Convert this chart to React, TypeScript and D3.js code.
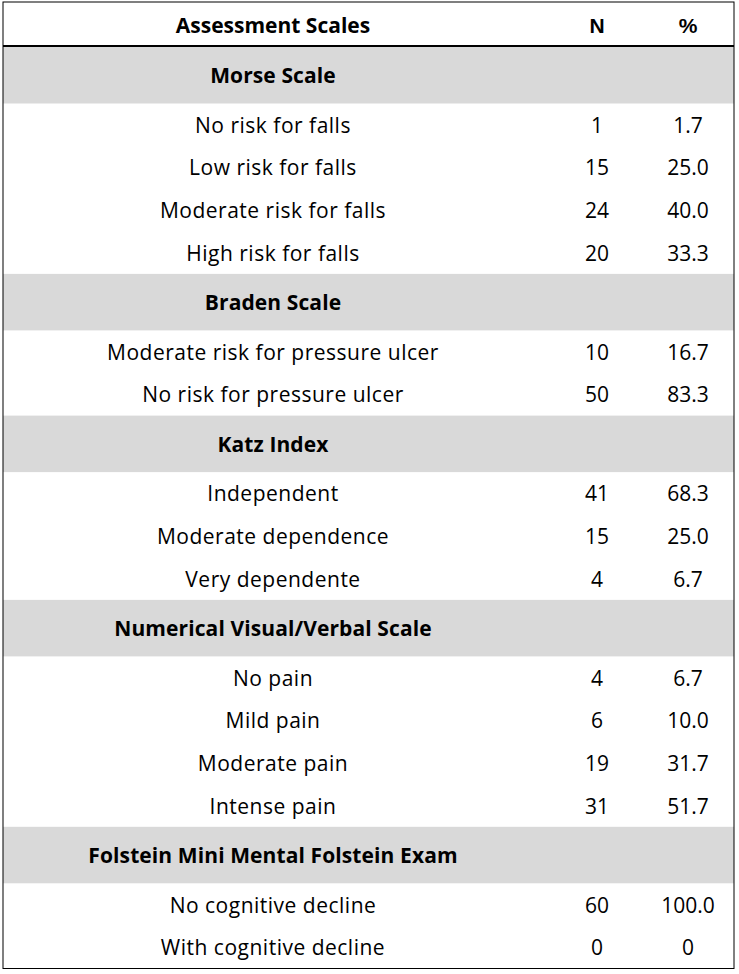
import React from "react";
import * as d3 from "d3";

const sections = [
  "Morse Scale",
  "Braden Scale",
  "Katz Index",
  "Numerical Visual/Verbal Scale",
  "Folstein Mini Mental Folstein Exam",
];
const rowSection = [0, 0, 0, 0, 1, 1, 2, 2, 2, 3, 3, 3, 3, 4, 4];
const rowLabels = [
  "No risk for falls",
  "Low risk for falls",
  "Moderate risk for falls",
  "High risk for falls",
  "Moderate risk for pressure ulcer",
  "No risk for pressure ulcer",
  "Independent",
  "Moderate dependence",
  "Very dependente",
  "No pain",
  "Mild pain",
  "Moderate pain",
  "Intense pain",
  "No cognitive decline",
  "With cognitive decline",
];
const nValues = ["1", "15", "24", "20", "10", "50", "41", "15", "4", "4", "6", "19", "31", "60", "0"];
const pctValues = ["1.7", "25.0", "40.0", "33.3", "16.7", "83.3", "68.3", "25.0", "6.7", "6.7", "10.0", "31.7", "51.7", "100.0", "0"];
const headers = ["Assessment Scales", "N", "%"];

const W = 739;
const H = 974;
const left = 3;
const right = 734;
const top = 2;
const headerH = 44;
const sectionH = 56.5;
const rowH = 42.6;
const font = "'Open Sans', Lato, sans-serif";
const fs = 21;

export default function App() {
  const colX = d3.scaleOrdinal<string, number>().domain(headers).range([273, 597, 688]);

  type Item = { kind: "section" | "row"; y: number; h: number; idx: number };
  const items: Item[] = [];
  let y = top + headerH + 1;
  let prev = -1;
  rowLabels.forEach((_, i) => {
    const s = rowSection[i];
    if (s !== prev) {
      items.push({ kind: "section", y, h: sectionH, idx: s });
      y += sectionH;
      prev = s;
    }
    items.push({ kind: "row", y, h: rowH, idx: i });
    y += rowH;
  });
  const bottom = y;

  return (
    <svg width={W} height={H} style={{ position: "absolute", left: 0, top: 0, background: "#fff" }}>
      <rect x={0} y={0} width={W} height={H} fill="#fff" />
      {items.map((it, k) =>
        it.kind === "section" ? (
          <g key={k}>
            <rect x={left} y={it.y} width={right - left} height={it.h} fill="#d9d9d9" />
            <text
              x={colX("Assessment Scales")}
              y={it.y + it.h / 2}
              textAnchor="middle"
              dominantBaseline="central"
              fontFamily={font}
              fontWeight="bold"
              fontSize={fs}
              letterSpacing={0.1}
              fill="#000"
            >
              {sections[it.idx]}
            </text>
          </g>
        ) : (
          <g key={k} fontFamily={font} fontSize={fs} fill="#000">
            <text
              x={colX("Assessment Scales")}
              y={it.y + it.h / 2}
              textAnchor="middle"
              dominantBaseline="central"
              letterSpacing={0.5}
            >
              {rowLabels[it.idx]}
            </text>
            <text x={colX("N")} y={it.y + it.h / 2} textAnchor="middle" dominantBaseline="central">
              {nValues[it.idx]}
            </text>
            <text x={colX("%")} y={it.y + it.h / 2} textAnchor="middle" dominantBaseline="central">
              {pctValues[it.idx]}
            </text>
          </g>
        )
      )}
      {headers.map((h) => (
        <text
          key={h}
          x={colX(h)}
          y={top + headerH / 2 + 1}
          textAnchor="middle"
          dominantBaseline="central"
          fontFamily={h === "Assessment Scales" ? font : "'Liberation Sans', Arial, sans-serif"}
          fontWeight="bold"
          fontSize={fs}
          fill="#000"
        >
          {h}
        </text>
      ))}
      <line x1={left} x2={right} y1={top + headerH} y2={top + headerH} stroke="#000" strokeWidth={2} />
      <rect x={left} y={top} width={right - left} height={bottom - top} fill="none" stroke="#000" strokeWidth={1} />
    </svg>
  );
}
